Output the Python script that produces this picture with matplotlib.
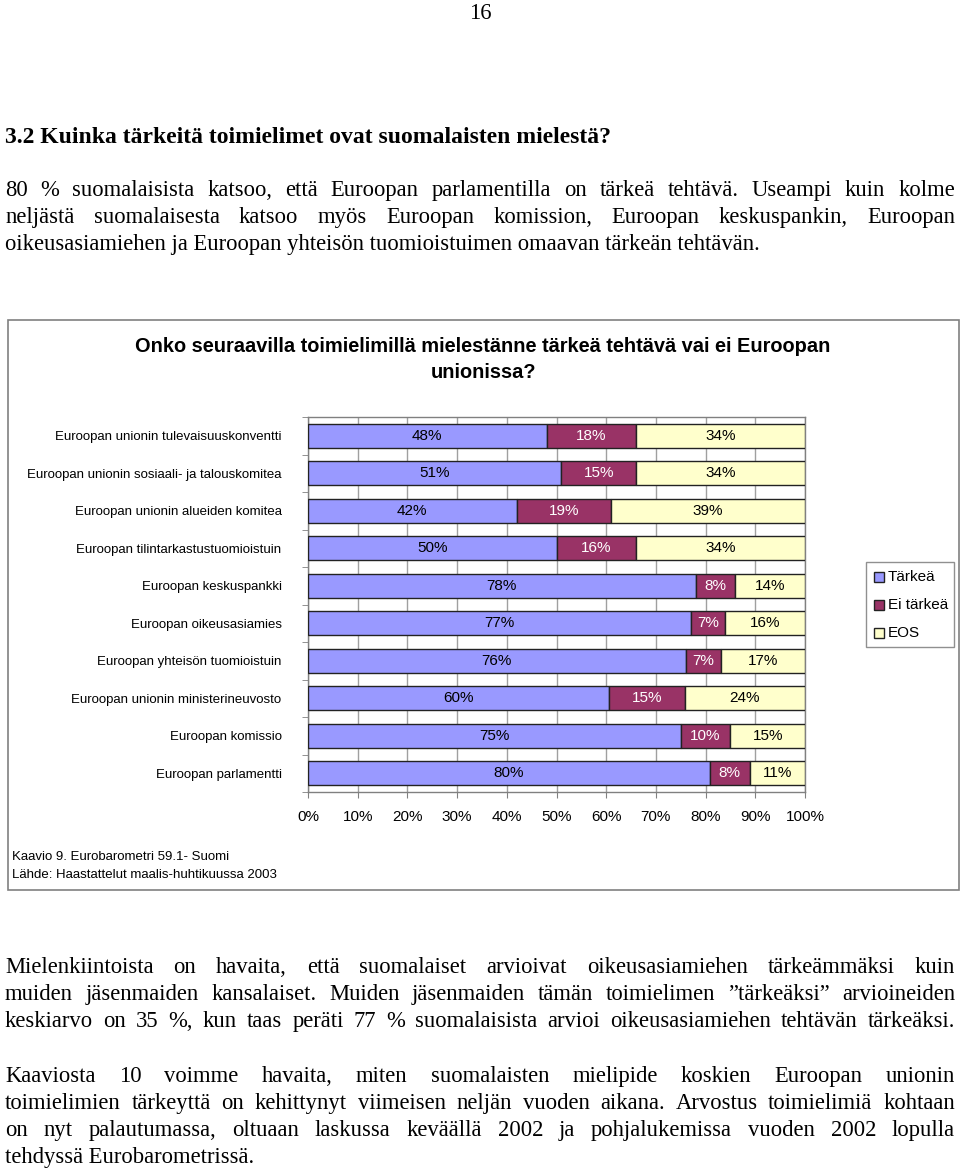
import matplotlib
matplotlib.use("Agg")
import matplotlib.pyplot as plt
from matplotlib.patches import Rectangle
import numpy as np

W, H = 960, 1172

categories = [
    "Euroopan unionin tulevaisuuskonventti",
    "Euroopan unionin sosiaali- ja talouskomitea",
    "Euroopan unionin alueiden komitea",
    "Euroopan tilintarkastustuomioistuin",
    "Euroopan keskuspankki",
    "Euroopan oikeusasiamies",
    "Euroopan yhteisön tuomioistuin",
    "Euroopan unionin ministerineuvosto",
    "Euroopan komissio",
    "Euroopan parlamentti",
]
tarkea = [48, 51, 42, 50, 78, 77, 76, 60, 75, 80]
ei_tarkea = [18, 15, 19, 16, 8, 7, 7, 15, 10, 8]
eos = [34, 34, 39, 34, 14, 16, 17, 24, 15, 11]
series_names = ["Tärkeä", "Ei tärkeä", "EOS"]
colors = ["#9999FF", "#993366", "#FFFFCC"]
label_colors = ["black", "white", "black"]
xtick_labels = ["0%", "10%", "20%", "30%", "40%", "50%", "60%", "70%", "80%", "90%", "100%"]

title_lines = ["Onko seuraavilla toimielimillä mielestänne tärkeä tehtävä vai ei Euroopan",
               "unionissa?"]
footer1 = "Kaavio 9. Eurobarometri 59.1- Suomi"
footer2 = "Lähde: Haastattelut maalis-huhtikuussa 2003"

heading = "3.2 Kuinka tärkeitä toimielimet ovat suomalaisten mielestä?"
para1 = [
    ("80 % suomalaisista katsoo, että  Euroopan parlamentilla on tärkeä tehtävä. Useampi kuin kolme", True),
    ("neljästä suomalaisesta katsoo myös Euroopan komission, Euroopan keskuspankin, Euroopan", True),
    ("oikeusasiamiehen ja Euroopan yhteisön tuomioistuimen omaavan tärkeän tehtävän.", False),
]
para2 = [
    ("Mielenkiintoista on havaita, että suomalaiset arvioivat oikeusasiamiehen tärkeämmäksi kuin", True),
    ("muiden jäsenmaiden kansalaiset. Muiden jäsenmaiden tämän toimielimen  ”tärkeäksi” arvioineiden", True),
    ("keskiarvo on 35 %, kun taas peräti 77 % suomalaisista arvioi oikeusasiamiehen tehtävän tärkeäksi.", True),
]
para3 = [
    ("Kaaviosta 10 voimme havaita, miten suomalaisten mielipide koskien Euroopan unionin", True),
    ("toimielimien tärkeyttä on kehittynyt viimeisen neljän vuoden aikana.  Arvostus toimielimiä kohtaan", True),
    ("on nyt palautumassa, oltuaan laskussa keväällä 2002 ja pohjalukemissa vuoden 2002 lopulla", True),
    ("tehdyssä Eurobarometrissä.", False),
]

fig = plt.figure(figsize=(W / 100, H / 100), dpi=100)
fig.patch.set_facecolor("white")
renderer = fig.canvas.get_renderer()


def fx(x):
    return x / W


def fy(y):
    return 1 - y / H


SERIF = "Liberation Serif"
SANS = "Liberation Sans"
BODY = 16.25
BASE = 6  # baseline offset below visual line centre (px)


def line(y, text, justify, x0=5, x1=955, size=BODY, weight="normal"):
    yb = fy(y + BASE)
    if not justify:
        fig.text(fx(x0), yb, text, family=SERIF, size=size, weight=weight,
                 ha="left", va="baseline")
        return
    words = text.split()
    objs = [fig.text(0, yb, w, family=SERIF, size=size, weight=weight,
                     ha="left", va="baseline") for w in words]
    widths = [o.get_window_extent(renderer).width for o in objs]
    gap = (x1 - x0 - sum(widths)) / (len(words) - 1)
    x = x0
    for o, wd in zip(objs, widths):
        o.set_x(fx(x))
        x += wd + gap


# page number and heading
fig.text(fx(480), fy(13 + BASE), "16", family=SERIF, size=BODY, ha="center", va="baseline")
fig.text(fx(5), fy(137 + BASE), heading, family=SERIF, size=17, weight="bold",
         ha="left", va="baseline")
for i, (t, j) in enumerate(para1):
    line(190 + 27 * i, t, j)
for i, (t, j) in enumerate(para2):
    line(967 + 27 * i, t, j)
for i, (t, j) in enumerate(para3):
    line(1076 + 27 * i, t, j)

# chart frame
fig.patches.append(Rectangle((fx(8), fy(890)), fx(951), (890 - 320) / H,
                             transform=fig.transFigure, fill=False,
                             edgecolor="#808080", lw=1.2))
for yy, t in zip([347, 372], title_lines):
    fig.text(fx(483), fy(yy), t, family=SANS, size=14.4,
             weight="bold", ha="center", va="center")

# bars
ax = fig.add_axes([fx(308), fy(792), 497 / W, 375 / H])
data = np.array([tarkea, ei_tarkea, eos], dtype=float)
totals = data.sum(axis=0)
shares = data / totals * 100
ypos = np.arange(len(categories))
left = np.zeros(len(categories))
for k in range(3):
    ax.barh(ypos, shares[k], left=left, height=0.63, color=colors[k],
            edgecolor="#222222", lw=1.0, zorder=3)
    for i in range(len(categories)):
        ax.text(left[i] + shares[k][i] / 2, ypos[i], f"{int(data[k][i])}%",
                ha="center", va="center", family=SANS, size=11,
                color=label_colors[k], zorder=4)
    left += shares[k]

ax.set_xlim(0, 100)
ax.set_ylim(len(categories) - 0.5, -0.5)
ax.set_xticks(np.arange(0, 101, 10))
ax.set_xticklabels(xtick_labels, family=SANS, size=11)
ax.set_yticks(ypos)
ax.set_yticklabels(categories, family=SANS, size=9.5)
ax.set_yticks(np.arange(-0.5, len(categories), 1), minor=True)
ax.tick_params(axis="y", which="major", length=0, pad=19)
ax.tick_params(axis="y", which="minor", length=4, color="#808080", direction="out")
ax.tick_params(axis="x", length=4, color="#808080", direction="out", pad=9)
ax.grid(axis="x", color="#a0a0a0", lw=1, zorder=0)
for s in ax.spines.values():
    s.set_color("#808080")
    s.set_linewidth(1)

# legend
fig.patches.append(Rectangle((fx(866), fy(647)), 88 / W, 85 / H,
                             transform=fig.transFigure, fill=False,
                             edgecolor="#909090", lw=1))
for k, yy in enumerate([577, 605, 633]):
    fig.patches.append(Rectangle((fx(874), fy(yy + 5)), 10 / W, 10 / H,
                                 transform=fig.transFigure, facecolor=colors[k],
                                 edgecolor="#222222", lw=1))
    fig.text(fx(888), fy(yy), series_names[k], family=SANS, size=11,
             ha="left", va="center")

fig.text(fx(12), fy(857), footer1, family=SANS, size=9.5, ha="left", va="center")
fig.text(fx(12), fy(875), footer2, family=SANS, size=9.5, ha="left", va="center")

fig.savefig("out.png", dpi=100, facecolor="white")
